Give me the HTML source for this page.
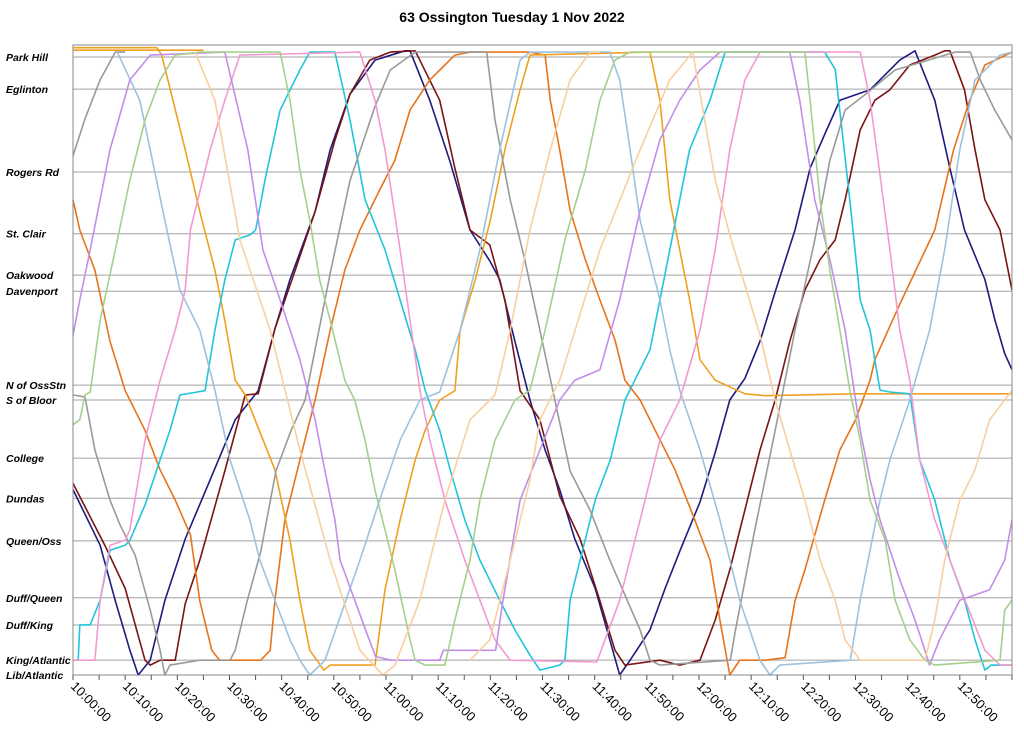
<!DOCTYPE html>
<html><head><meta charset="utf-8"><style>
html,body{margin:0;padding:0;background:#fff;}
svg{display:block;font-family:"Liberation Sans",Arial,sans-serif;}
</style></head><body>
<svg id="chart" width="1024" height="739" viewBox="0 0 1024 739">
<text x="512" y="22" text-anchor="middle" font-size="14" font-weight="bold" fill="#000">63 Ossington Tuesday 1 Nov 2022</text>
<g id="grid"></g>
<g id="ylabels"></g>
<g id="series"></g>
<rect x="73" y="45" width="939" height="630" fill="none" stroke="#8a8a8a" stroke-width="1"/>
<g id="xaxis"></g>
</svg>
<script>
const stationNames = ["Park Hill","Eglinton","Rogers Rd","St. Clair","Oakwood","Davenport","N of OssStn","S of Bloor","College","Dundas","Queen/Oss","Duff/Queen","Duff/King","King/Atlantic","Lib/Atlantic"];
const stationPos = [100,94.8,81.4,71.4,64.7,62.1,46.9,44.5,35.1,28.6,21.7,12.5,8.1,2.4,0];
const tickMinutes = [0,10,20,30,40,50,60,70,80,90,100,110,120,130,140,150,160,170];
const tickLabels = ["10:00:00","10:10:00","10:20:00","10:30:00","10:40:00","10:50:00","11:00:00","11:10:00","11:20:00","11:30:00","11:40:00","11:50:00","12:00:00","12:10:00","12:20:00","12:30:00","12:40:00","12:50:00"];
const vehicleColors = ["#1c1c7e","#7a1414","#e8731a","#f0a020","#f0a020","#22c4dc","#9a9a9a","#9a9a9a","#9cc2e0","#f29ad0","#c28ee8","#a6cf8c","#f9cfa0","#f9cfa0"];
const vehicleNames = ["navy","maroon","dark-orange","golden","golden-top","cyan","gray-a","gray","light-blue","pink","lilac","green","peach-a","peach-b"];
const navy = [[0,30],[5.2,21],[8.1,12],[10.9,4],[12.5,0],[14.8,2.4],[17.6,12],[21.5,22],[26.3,31.6],[31.1,41.3],[35.5,46],[38.7,56],[41.6,64],[46.4,75],[49.3,85],[53.1,94],[57.9,99.5],[63.6,101],[64.6,101],[68.4,93],[72.3,83],[76.1,72],[79.9,67],[81.8,64],[84.7,54],[87.6,44.5],[90.5,36.4],[93.3,30],[96.2,22],[100.1,14],[102.9,5.7],[104.8,0],[106.8,2.4],[110.6,7.3],[113.5,14],[116.3,20],[120.2,28],[123.1,36],[125.9,44.5],[128.8,48],[131.7,54],[134.6,62],[138.4,72],[141.3,82],[144.1,87.5],[147,93],[152.8,94.7],[158.5,99.5],[161.4,101],[165.2,93],[168.1,82],[170.9,72],[174.8,64],[176.7,57.5],[178.6,52],[180,49.4]];
const maroon = [[0,31],[6.1,21],[10,14],[13.8,2.4],[14.8,1.6],[16.7,2.4],[19.6,2.4],[21.5,11.5],[24.3,18.6],[29.1,33],[33,45.3],[35.5,45.5],[38.7,56],[42.6,65.5],[46.4,75],[50.2,86.5],[53.1,94],[56.9,99.5],[60.8,100.8],[65.6,101],[70.3,93],[73.2,82],[76.1,72],[79.9,69.6],[82.8,60.7],[85.7,46],[89.5,41.3],[93.3,29],[97.2,22],[101,12],[103.9,4],[105.8,1.6],[112.5,2.4],[116.3,1.6],[120.2,2.4],[123.1,8.9],[125.9,17],[128.8,26.7],[131.7,36.4],[134.6,44.5],[137.4,54],[140.3,62.3],[143.2,67.2],[146.1,70.4],[148,76.9],[150.9,88.2],[153.7,93],[156.6,94.7],[160.4,98.7],[165.2,100.3],[167.1,101],[168.1,101],[170.9,94.7],[172.9,85],[174.8,76.9],[177.7,72],[180,62.3]];
const darkOrange = [[0,76.9],[1.3,72],[4.2,65.5],[7.1,54],[10,46],[13.8,39.6],[16.7,33.2],[19.6,28.3],[22.5,22.7],[24.3,12],[26.6,4],[28.1,2.4],[36,2.4],[37.8,4],[38.7,12],[40.6,25],[43.5,34.8],[46.4,44.5],[49.3,55.8],[52.1,65.5],[55,72],[58.8,78.5],[61.7,83.3],[64.6,91.4],[68.4,96.3],[71.3,98.7],[73.2,100.3],[76.1,100.8],[87.6,100.8],[90.5,100.3],[91.5,93],[93.3,85],[95.3,75.2],[98.2,67.2],[101,60.7],[103.9,54.2],[105.8,47.7],[108.7,44.5],[111.6,39.6],[115.4,33.2],[119.2,25.1],[122.1,18.6],[124,8.9],[125.9,0],[127.8,2.4],[132.7,2.4],[136.5,2.8],[138.4,12],[140.3,17],[144.1,28.3],[147,36.4],[150,41.3],[152.8,47.7],[153.7,51],[158.5,60],[165.2,72],[168.8,85],[171.9,93],[174.8,98.7],[180,100.8]];
const golden = [[0,101.5],[16.1,101.5],[17,100.3],[21.5,85],[24.3,75],[27.2,65.5],[29.1,57.4],[31.1,47.7],[33,45.3],[38.7,33.2],[41.6,21.8],[43.5,12.1],[45.4,4],[48.1,0.8],[49.3,1.6],[57.9,1.6],[59.8,13.8],[62.7,25.1],[65.6,34.8],[67.5,39.6],[70.3,44.5],[73.2,46],[74.2,55.8],[77.1,63.9],[80,73.6],[82.8,85],[85.7,94.7],[87.6,100.3],[110.6,100.8],[112.5,93],[114.4,76.9],[118.2,60.7],[120.2,51],[123.1,47.7],[128.8,45.5],[132.7,45.2],[150,45.5],[180,45.5]];
const goldenTop = [[0,101.1],[25,101.1]];
const cyan = [[0,2.4],[1,2.4],[1.3,8.1],[3.3,8.1],[5.2,12.1],[7.1,20.2],[10,21],[10.9,21.8],[13.8,27.5],[16.7,34.8],[18.6,39.6],[20.5,45.3],[25.3,46],[27.2,55.8],[29.1,63.9],[31.1,70.4],[33.9,71.2],[35,72],[36.8,80.1],[39.7,91.4],[43.5,97.9],[45.4,100.8],[50.2,100.8],[53.1,89.8],[56,76.9],[59.8,68.8],[62.7,60.7],[65.6,52.6],[67.5,46.1],[70.3,39.6],[72.3,33.2],[75.1,25.1],[78,18.6],[81.8,12.1],[84.7,7.3],[87.6,3.2],[89.5,0.8],[93.3,1.6],[94.3,2.4],[95.3,12.1],[97.2,18.6],[100.1,28.3],[103,34.8],[105.8,44.5],[110.6,52.6],[114.4,68.8],[118.2,85],[122.1,93],[125,100.8],[144.1,100.8],[146.1,98],[148.9,76.9],[150.9,60.7],[152.8,55.8],[153.7,51],[154.7,46.1],[156.6,45.8],[160.4,45.5],[162.3,34.8],[165.2,28.3],[168.1,18.6],[170.9,12.1],[172.9,5.7],[174.8,0.8],[176,1.6],[180,1.6]];
const grayA = [[0,84],[2.3,90],[5.2,96.3],[8.1,100.8],[10,100.8]];
const gray = [[0,45.3],[2.3,45],[4.2,36.4],[7.1,28.3],[9,24.3],[11.9,19.4],[14.8,10.5],[16.7,4],[17.6,0],[18.6,1.6],[24.3,2.4],[30.1,2.4],[31.1,4],[33.4,12],[36,20],[38.9,33],[41.8,39.6],[44.5,44.5],[49.3,65],[53.1,80],[57.9,92],[60.8,97.9],[65.6,100.8],[79.3,100.8],[80.9,89.8],[83.8,76.9],[86.6,67.2],[89.5,55.8],[95.3,33],[99.1,26.7],[102.9,18.6],[108.7,7.3],[110.6,2.4],[112.5,1.6],[126,2.4],[127,7.3],[130.7,23.5],[134.6,39.6],[138.4,55.8],[142.2,70.4],[145.1,83.3],[148,91.4],[151.8,93.9],[157.6,97.9],[169.1,100.8],[172,100.8],[173.9,96.3],[176.7,91.4],[180,86.6]];
const lightBlue = [[8.5,100.8],[12.8,93],[14.8,85],[17.6,73.6],[20.5,62.3],[24.3,55.8],[27.2,46.1],[30.1,34.8],[33.9,25.1],[35.8,18.6],[38.7,12.1],[41.6,5.7],[43.5,2.4],[45.4,0],[48.3,2.4],[55,18.6],[58.8,28.3],[62.7,38],[66.5,44.5],[70.3,45.8],[74.2,55.8],[78,68.8],[81.8,85],[85.7,99.5],[87.6,100.8],[102.9,100.8],[104.8,96.3],[106.8,85],[108.7,73.6],[112.5,60.7],[114.4,52.6],[116.3,46.1],[120.2,36.4],[124,25.1],[127.8,12.1],[131.7,2.4],[133.6,0],[135.5,1.6],[149,2.4],[150.9,12.1],[154.7,28.3],[156.6,34.8],[160.4,44.5],[164.2,55.8],[167.1,68.8],[170,85],[172.9,96.3],[177.7,100.3],[180,100.8]];
const pink = [[0,2.4],[4.2,2.4],[5.2,12.1],[7.1,21],[10,21.8],[10.9,23.5],[13.8,38],[16.7,47.7],[19.6,55.8],[21.5,62.3],[22.5,72],[26.3,85],[29.1,93],[32,100.3],[55,100.8],[57.9,93],[59.8,85],[62.7,68.8],[64.6,57.4],[66.5,46.1],[68.4,38],[71.3,28.3],[75.1,18.6],[78,12.1],[80.9,5.7],[83.8,2.4],[100.4,2.1],[104.8,12.1],[108.7,25.1],[112.5,38],[116.3,44.5],[120.2,55.8],[123.1,68.8],[125.9,85],[128.8,96.3],[131.7,100.8],[150.9,100.8],[152.8,93],[156.6,68.8],[158.5,55.8],[160.4,47.7],[162.3,34.8],[165.2,25.1],[168.1,18.6],[171,12.1],[174.8,4],[177.7,1.6],[180,1.6]];
const lilac = [[0,55],[1.3,60.7],[3.3,68.8],[7.1,85],[10.9,96.3],[14.8,100.3],[29.1,100.8],[33.5,85],[36.4,68.8],[39.7,60.7],[43.5,51],[46.4,41.3],[48.3,33],[50.2,25.1],[51.2,18.6],[54,12.1],[56.2,7],[58,3],[61,2.4],[70.3,2.4],[71,4],[81,4],[82.4,12],[85.7,28.3],[89.5,36.4],[93.3,44.5],[96.2,47.7],[101,49.4],[104.8,60.7],[108.7,75.2],[112.5,86.6],[116.3,93],[120.2,97.9],[124,100.8],[137.4,100.8],[139.3,93],[142.2,76.9],[145.1,67.2],[148,55.8],[150.9,39.6],[152.8,31.6],[154.7,25.1],[158.5,15.4],[161.4,8.9],[163.3,4],[164.2,1.6],[166.1,5.7],[170,12.1],[175.7,13.8],[178.6,18.6],[180,25.1]];
const green = [[0,40.5],[1.3,41.3],[2.3,45.3],[3.3,45.8],[5.2,57.4],[8.1,68.8],[10.9,80.1],[13.8,89.8],[16.7,96.3],[19.6,100.3],[24.3,100.8],[39.7,100.8],[41.6,93],[43.5,81.7],[45.4,73.6],[47.3,63.9],[49.3,57.4],[52.1,47.7],[54,44.5],[56,38],[57.9,29.9],[59.8,23.5],[61.7,17],[64.6,5.7],[65.6,2.4],[67.5,1.6],[71.3,1.6],[73.2,8.9],[76.1,18.6],[78,28.3],[80.9,38],[84.7,44.5],[87.6,46.1],[90.5,55.8],[94.3,70.4],[98.2,81.7],[101,93],[103.9,99.5],[106.8,100.8],[140.3,100.8],[141.3,93],[143.2,76.9],[145.1,65.5],[147,55.8],[148.9,46.1],[150.9,38],[152.8,28.3],[155.7,21.8],[157.6,12.1],[160.4,5.7],[163.3,2.4],[165.2,1.6],[177.7,2.4],[178.6,10.5],[180,12.1]];
const peachA = [[23.4,100.8],[27.2,93],[32,70.4],[37.8,55.8],[43.5,36.4],[49.3,18.6],[55,4],[59.4,0],[61.7,1.6],[66.5,12.1],[71.3,28.3],[76.1,41.3],[80.9,45.3],[83.8,55.8],[87.6,72],[91.5,85],[95.3,96.3],[99.1,100.8],[101,100.8]];
const peachB = [[76.1,2.4],[79.9,5.7],[83.8,18.6],[87.6,31.6],[89.5,41.3],[93.3,47.7],[101,68.8],[108.7,85],[114.4,96.3],[118.8,100.8],[121.1,89.8],[123.1,80.1],[125.9,71.2],[128.8,63.1],[131.7,55],[134.6,44.5],[137.4,36.4],[140.3,28.3],[143.2,18.6],[146.1,12.1],[148,5.7],[150.9,2.4],[163.3,2.4],[165.2,8.9],[167.1,18.6],[170,28.3],[172.9,33.2],[175.7,41.3],[178.6,44.5],[180,46.1]];
const vehicles = [navy,maroon,darkOrange,golden,goldenTop,cyan,grayA,gray,lightBlue,pink,lilac,green,peachA,peachB];

const NS = "http://www.w3.org/2000/svg";
const X0 = 73, X1 = 1012, Y0 = 675, Y100 = 57;
function xScale(m){ return X0 + m * (X1 - X0) / 180; }
function yScale(p){ return Y0 - p * (Y0 - Y100) / 100; }

const grid = document.getElementById('grid');
const ylab = document.getElementById('ylabels');
stationPos.forEach((p, i) => {
  const y = yScale(p);
  const ln = document.createElementNS(NS, 'line');
  ln.setAttribute('x1', X0); ln.setAttribute('x2', X1);
  ln.setAttribute('y1', y); ln.setAttribute('y2', y);
  ln.setAttribute('stroke', '#a0a0a0'); ln.setAttribute('stroke-width', '1');
  
  
  grid.appendChild(ln);
  const t = document.createElementNS(NS, 'text');
  t.setAttribute('x', 6); t.setAttribute('y', y + 4);
  t.setAttribute('font-size', '10.5'); t.setAttribute('font-weight', 'bold'); t.setAttribute('font-style', 'italic');
  t.textContent = stationNames[i];
  
  
  ylab.appendChild(t);
});

const series = document.getElementById('series');
vehicles.forEach((pts, i) => {
  const pl = document.createElementNS(NS, 'polyline');
  pl.setAttribute('points', pts.map(d => xScale(d[0]).toFixed(1) + ',' + yScale(d[1]).toFixed(1)).join(' '));
  pl.setAttribute('fill', 'none');
  pl.setAttribute('stroke', vehicleColors[i]);
  pl.setAttribute('stroke-width', '1.6');
  pl.setAttribute('stroke-linejoin', 'round');
  
  
  series.appendChild(pl);
});

const xa = document.getElementById('xaxis');
for (let m = 0; m <= 180; m += 5) {
  const tk = document.createElementNS(NS, 'line');
  const x = xScale(m);
  tk.setAttribute('x1', x); tk.setAttribute('x2', x);
  tk.setAttribute('y1', Y0); tk.setAttribute('y2', Y0 + 5);
  tk.setAttribute('stroke', '#555');
  
  
  xa.appendChild(tk);
}
tickMinutes.forEach((m, i) => {
  const x = xScale(m);
  const t = document.createElementNS(NS, 'text');
  t.setAttribute('x', 0); t.setAttribute('y', 0);
  t.setAttribute('font-size', '13');
  t.setAttribute('transform', 'translate(' + (x - 3) + ',' + (Y0 + 12) + ') rotate(45)');
  t.textContent = tickLabels[i];
  
  
  xa.appendChild(t);
});
</script>
</body></html>
